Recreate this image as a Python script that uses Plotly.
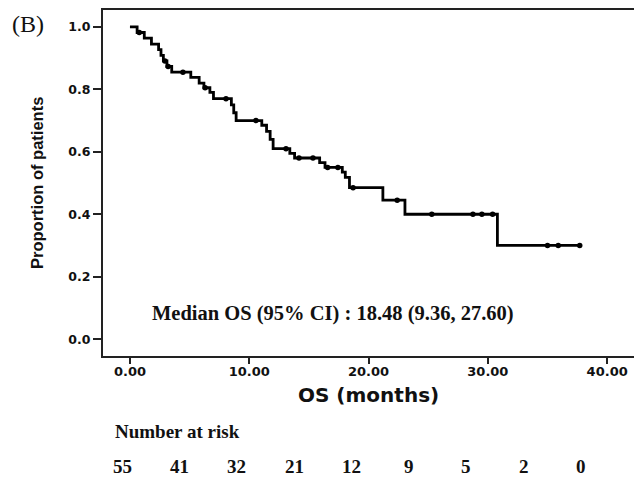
import plotly.graph_objects as go

# Kaplan-Meier step curve (time in months, survival after the drop)
km_time = [0, 0.6, 1.2, 1.8, 2.4, 2.6, 2.8, 3.1, 3.5, 5.1, 5.8, 6.2, 6.7, 7.0,
           8.5, 8.7, 8.9, 11.05, 11.45, 11.75, 12.0, 13.4, 13.8, 15.9, 16.35,
           17.8, 18.05, 18.4, 21.2, 23.05, 30.8, 37.7]
km_surv = [1.0, 0.982, 0.964, 0.945, 0.927, 0.909, 0.891, 0.873, 0.855, 0.838,
           0.82, 0.805, 0.79, 0.77, 0.75, 0.725, 0.70, 0.685, 0.665, 0.64, 0.61,
           0.595, 0.58, 0.565, 0.55, 0.535, 0.518, 0.485, 0.445, 0.40, 0.30, 0.30]

# censored observations
cens_time = [0.78, 2.93, 3.2, 4.44, 6.3, 8.05, 10.56, 13.08, 14.17, 15.34,
             16.57, 17.43, 18.7, 22.4, 25.3, 28.75, 29.5, 30.4, 35.0, 35.9, 37.7]
cens_surv = [0.982, 0.891, 0.873, 0.855, 0.805, 0.77, 0.70, 0.61, 0.58, 0.58,
             0.55, 0.55, 0.485, 0.445, 0.40, 0.40, 0.40, 0.40, 0.30, 0.30, 0.30]

x_ticks = [0, 10, 20, 30, 40]
y_ticks = [0.0, 0.2, 0.4, 0.6, 0.8, 1.0]
risk_numbers = ["55", "41", "32", "21", "12", "9", "5", "2", "0"]

median_text = "Median OS (95% CI) : 18.48 (9.36, 27.60)"

# page body has an 8px default margin; compensate so the plot lands where the reference has it
OFF = 8
W, H = 642 - OFF, 481 - OFF
L, R, T, B = 103 - OFF, 8, 0, 125
pw, ph = W - L - R, H - T - B
PLOT_BOTTOM = H - B + OFF  # in window pixels


def px(xp):
    return (xp - OFF - L) / pw


def py(yp):
    return (PLOT_BOTTOM - yp) / ph


fig = go.Figure()
fig.add_trace(go.Scatter(x=km_time, y=km_surv, mode="lines",
                         line=dict(color="black", width=2.8, shape="hv"),
                         showlegend=False, hoverinfo="skip"))
fig.add_trace(go.Scatter(x=cens_time, y=cens_surv, mode="markers",
                         marker=dict(color="black", size=5.5, symbol="circle"),
                         showlegend=False))

fig.update_xaxes(range=[-2.26, 42.25], tickvals=x_ticks, tickformat=".2f",
                 showline=True, linecolor="#222", linewidth=2, mirror=True,
                 ticks="outside", ticklen=6, tickwidth=2, tickcolor="#222",
                 showgrid=False, zeroline=False, ticklabelstandoff=-4,
                 tickfont=dict(family="DejaVu Sans", size=13, color="#111", weight="bold"))
fig.update_yaxes(range=[-0.054, 1.054], tickvals=y_ticks, tickformat=".1f",
                 showline=True, linecolor="#222", linewidth=2, mirror=True,
                 ticks="outside", ticklen=8, tickwidth=2, tickcolor="#222",
                 showgrid=False, zeroline=False,
                 tickfont=dict(family="DejaVu Sans", size=12.5, color="#111", weight="bold"))

serif = "Liberation Serif, Times New Roman, serif"
ann = []
ann.append(dict(x=px(10), y=py(22), xref="paper", yref="paper", text="(B)",
                showarrow=False, xanchor="left", yanchor="middle",
                font=dict(family=serif, size=24, color="#111")))
ann.append(dict(x=px(37), y=py(182), xref="paper", yref="paper",
                text="Proportion of patients", textangle=-90, showarrow=False,
                xanchor="center", yanchor="middle",
                font=dict(family="Liberation Sans, Arial, sans-serif",
                          size=16.5, color="#111", weight="bold")))
ann.append(dict(x=px(368), y=py(395), xref="paper", yref="paper", text="OS (months)",
                showarrow=False, xanchor="center", yanchor="middle",
                font=dict(family="DejaVu Sans", size=20, color="#111", weight="bold")))
ann.append(dict(x=px(150), y=py(313), xref="paper", yref="paper", text=median_text,
                showarrow=False, xanchor="left", yanchor="middle",
                font=dict(family=serif, size=20.5, color="#111", weight="bold")))
ann.append(dict(x=px(113), y=py(432), xref="paper", yref="paper", text="Number at risk",
                showarrow=False, xanchor="left", yanchor="middle",
                font=dict(family=serif, size=19, color="#111", weight="bold")))
for i, n in enumerate(risk_numbers):
    ann.append(dict(x=px(122 + i * 57.4), y=py(467), xref="paper", yref="paper", text=n,
                    showarrow=False, xanchor="center", yanchor="middle",
                    font=dict(family=serif, size=19, color="#111", weight="bold")))

fig.update_layout(width=W, height=H, margin=dict(l=L, r=R, t=T, b=B),
                  paper_bgcolor="white", plot_bgcolor="white",
                  annotations=ann, showlegend=False)

fig.write_html("out.html")
